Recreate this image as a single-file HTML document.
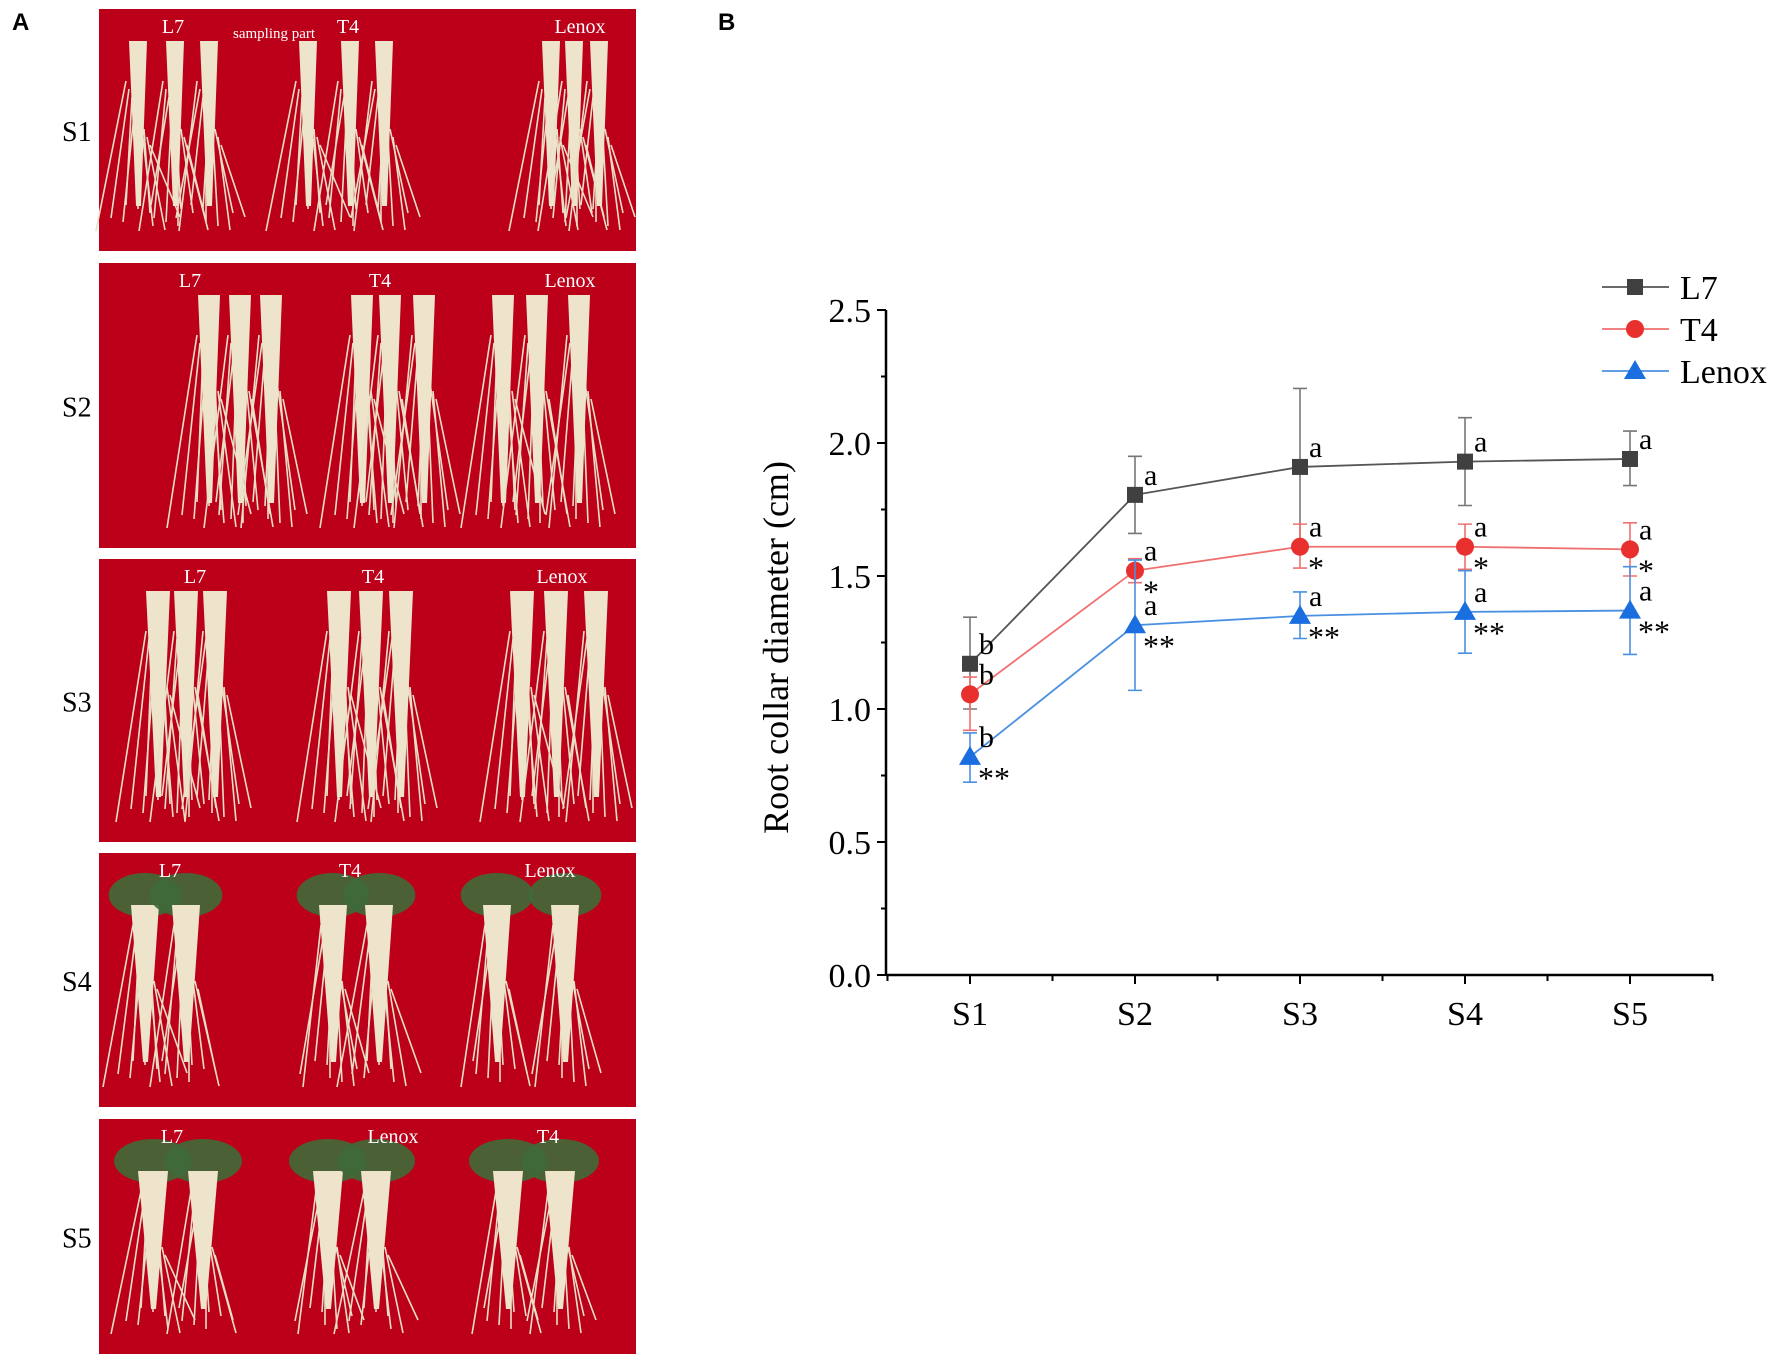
<!DOCTYPE html>
<html><head><meta charset="utf-8"><style>
html,body{margin:0;padding:0;background:#fff;}
svg{display:block;}
</style></head><body>
<svg id="fig" width="1772" height="1365" viewBox="0 0 1772 1365" xmlns="http://www.w3.org/2000/svg">
<text x="12" y="30" font-family="Liberation Sans, sans-serif" font-weight="bold" font-size="24">A</text>
<text x="718" y="30" font-family="Liberation Sans, sans-serif" font-weight="bold" font-size="24">B</text>
<g id="photos"></g>
<g id="chart"></g>
</svg>
<script>
// ---- chart data ----
const categories = ["S1","S2","S3","S4","S5"];
const seriesNames = ["L7","T4","Lenox"];
const l7Values = [1.17,1.805,1.91,1.93,1.94];
const l7Upper = [1.345,1.95,2.205,2.095,2.045];
const l7Lower = [1.0,1.66,1.62,1.765,1.84];
const t4Values = [1.055,1.52,1.61,1.61,1.60];
const t4Upper = [1.12,1.565,1.695,1.695,1.70];
const t4Lower = [0.92,1.475,1.53,1.525,1.50];
const lenoxValues = [0.82,1.315,1.35,1.365,1.37];
const lenoxUpper = [0.91,1.56,1.44,1.52,1.535];
const lenoxLower = [0.725,1.07,1.265,1.21,1.205];
const l7Letters = ["b","a","a","a","a"];
const t4Letters = ["b","a","a","a","a"];
const lenoxLetters = ["b","a","a","a","a"];
const t4Stars = ["","*","*","*","*"];
const lenoxStars = ["**","**","**","**","**"];
const yTicks = [0.0,0.5,1.0,1.5,2.0,2.5];
const yTickLabels = ["0.0","0.5","1.0","1.5","2.0","2.5"];

const NS="http://www.w3.org/2000/svg";
function mk(tag,attrs,parent){const e=document.createElementNS(NS,tag);for(const k in attrs)e.setAttribute(k,attrs[k]);parent.appendChild(e);return e;}
const chart=document.getElementById('chart');
const x0=886,x1=1713,yBase=975,yTop=310;
const yMax=2.5;
function xs(i){return 970+i*165;}
function ys(v){return yBase-(v/yMax)*(yBase-yTop);}
const serif='"Liberation Serif", serif';

let e=mk('line',{x1:x0,y1:yTop,x2:x0,y2:yBase,stroke:'#000','stroke-width':2.5},chart);


e=mk('line',{x1:x0,y1:yBase,x2:x1,y2:yBase,stroke:'#000','stroke-width':2.5},chart);


yTicks.forEach((v,i)=>{
  const y=ys(v);
  let t=mk('line',{x1:x0-9,y1:y,x2:x0,y2:y,stroke:'#000','stroke-width':2},chart);
  
  
  if(i<yTicks.length-1){const ym=ys(v+0.25);const m=mk('line',{x1:x0-5,y1:ym,x2:x0,y2:ym,stroke:'#000','stroke-width':2},chart);
  
  }
  const l=mk('text',{x:x0-15,y:y+12,'text-anchor':'end','font-family':serif,'font-size':34},chart);
  l.textContent=yTickLabels[i];
  
  
});
categories.forEach((c,i)=>{
  const x=xs(i);
  let t=mk('line',{x1:x,y1:yBase,x2:x,y2:yBase+9,stroke:'#000','stroke-width':2},chart);
  
  
  [x-82.5,x+82.5].forEach(xm=>{const m=mk('line',{x1:xm,y1:yBase,x2:xm,y2:yBase+6,stroke:'#000','stroke-width':2},chart);
  
  });
  const l=mk('text',{x:x,y:yBase+50,'text-anchor':'middle','font-family':serif,'font-size':34},chart);
  l.textContent=c;
  
  
});
let yt=mk('text',{x:0,y:0,transform:`translate(788,${(yTop+yBase)/2+5}) rotate(-90)`,'text-anchor':'middle','font-family':serif,'font-size':36},chart);
yt.textContent='Root collar diameter (cm)';



const series=[
 {name:'L7',vals:l7Values,up:l7Upper,lo:l7Lower,line:'#555',err:'#777',fill:'#404040',shape:'sq',letters:l7Letters,stars:null},
 {name:'T4',vals:t4Values,up:t4Upper,lo:t4Lower,line:'#f07070',err:'#f07070',fill:'#e8312f',shape:'ci',letters:t4Letters,stars:t4Stars},
 {name:'Lenox',vals:lenoxValues,up:lenoxUpper,lo:lenoxLower,line:'#4a90e2',err:'#4a90e2',fill:'#1a6ee0',shape:'tr',letters:lenoxLetters,stars:lenoxStars}
];
function marker(s,x,y,g){
  let m;
  if(s.shape==='sq')m=mk('rect',{x:x-8,y:y-8,width:16,height:16,fill:s.fill},g);
  else if(s.shape==='ci')m=mk('circle',{cx:x,cy:y,r:9,fill:s.fill},g);
  else m=mk('polygon',{points:`${x},${y-11} ${x-11},${y+8} ${x+11},${y+8}`,fill:s.fill},g);
  return m;
}
series.forEach(s=>{
  const g=mk('g',{},chart);
  
  
  s.vals.forEach((v,i)=>{
    const x=xs(i);
    const eb=mk('path',{d:`M${x},${ys(s.up[i])}V${ys(s.lo[i])}M${x-7},${ys(s.up[i])}H${x+7}M${x-7},${ys(s.lo[i])}H${x+7}`,stroke:s.err,'stroke-width':1.6,fill:'none'},g);
    
    
  });
  const pl=mk('polyline',{points:s.vals.map((v,i)=>`${xs(i)},${ys(v)}`).join(' '),fill:'none',stroke:s.line,'stroke-width':1.8},g);
  
  
  s.vals.forEach((v,i)=>{
    const m=marker(s,xs(i),ys(v),g);
    
    
    const lt=mk('text',{x:xs(i)+9,y:ys(v)-10,'font-family':serif,'font-size':30},g);
    lt.textContent=s.letters[i];
    
    
    if(s.stars&&s.stars[i]){
      const st=mk('text',{x:xs(i)+8,y:ys(v)+32,'font-family':serif,'font-size':32},g);
      st.textContent=s.stars[i];
      
      
    }
  });
});
const legY=[287,329,371];
series.forEach((s,i)=>{
  const g=mk('g',{},chart);
  
  
  mk('line',{x1:1602,y1:legY[i],x2:1669,y2:legY[i],stroke:s.line,'stroke-width':1.8},g);
  marker(s,1635,legY[i],g);
  const t=mk('text',{x:1680,y:legY[i]+12,'font-family':serif,'font-size':34},g);
  t.textContent=s.name;
});

// ---- photo panels (illustrative) ----
const ph=document.getElementById('photos');
const panels=[
 {y:9,h:242,lab:'S1',names:[['L7',173],['T4',348],['Lenox',580]],roots:[138,175,209,308,350,384,551,574,599],w:18,leaf:false},
 {y:263,h:285,lab:'S2',names:[['L7',190],['T4',380],['Lenox',570]],roots:[209,240,271,362,390,424,503,537,579],w:22,leaf:false},
 {y:559,h:283,lab:'S3',names:[['L7',195],['T4',373],['Lenox',562]],roots:[158,186,215,339,371,401,522,556,596],w:24,leaf:false},
 {y:853,h:254,lab:'S4',names:[['L7',170],['T4',350],['Lenox',550]],roots:[145,186,333,379,497,565],w:28,leaf:true},
 {y:1119,h:235,lab:'S5',names:[['L7',172],['Lenox',393],['T4',548]],roots:[153,203,328,376,508,560],w:30,leaf:true}
];
panels.forEach((p,pi)=>{
  const g=mk('g',{},ph);
  
  
  mk('rect',{x:99,y:p.y,width:537,height:p.h,fill:'#bc0019'},g);
  const top=p.y+32, bot=p.y+p.h-20;
  p.roots.forEach((rx,k)=>{
    if(p.leaf){mk('ellipse',{cx:rx,cy:top+10,rx:p.w*1.3,ry:22,fill:'#3f6a3a',opacity:0.9},g);}
    for(let j=0;j<9;j++){
      const dx=(j-4)*6, ex=rx+(j-4)*9+((k+j)%3-1)*6;
      mk('line',{x1:rx+dx*0.5,y1:top+40+j*8,x2:ex,y2:bot-((j*13)%30),stroke:'#e9dfc6','stroke-width':1.6},g);
    }
    mk('polygon',{points:`${rx-p.w/2},${top+ (p.leaf?20:0)} ${rx+p.w/2},${top+(p.leaf?20:0)} ${rx+3},${bot-25} ${rx-2},${bot-25}`,fill:'#eee4cc'},g);
  });
  p.names.forEach(n=>{const t=mk('text',{x:n[1],y:p.y+24,'text-anchor':'middle','font-family':serif,'font-size':20,fill:'#fff'},g);t.textContent=n[0];});
  if(pi===0){const t=mk('text',{x:233,y:p.y+29,'font-family':serif,'font-size':15,fill:'#fff'},g);t.textContent='sampling part';}
  const l=mk('text',{x:62,y:p.y+p.h/2+11,'font-family':serif,'font-size':28},ph);
  l.textContent=p.lab;
  
  
});
</script>
</body></html>
